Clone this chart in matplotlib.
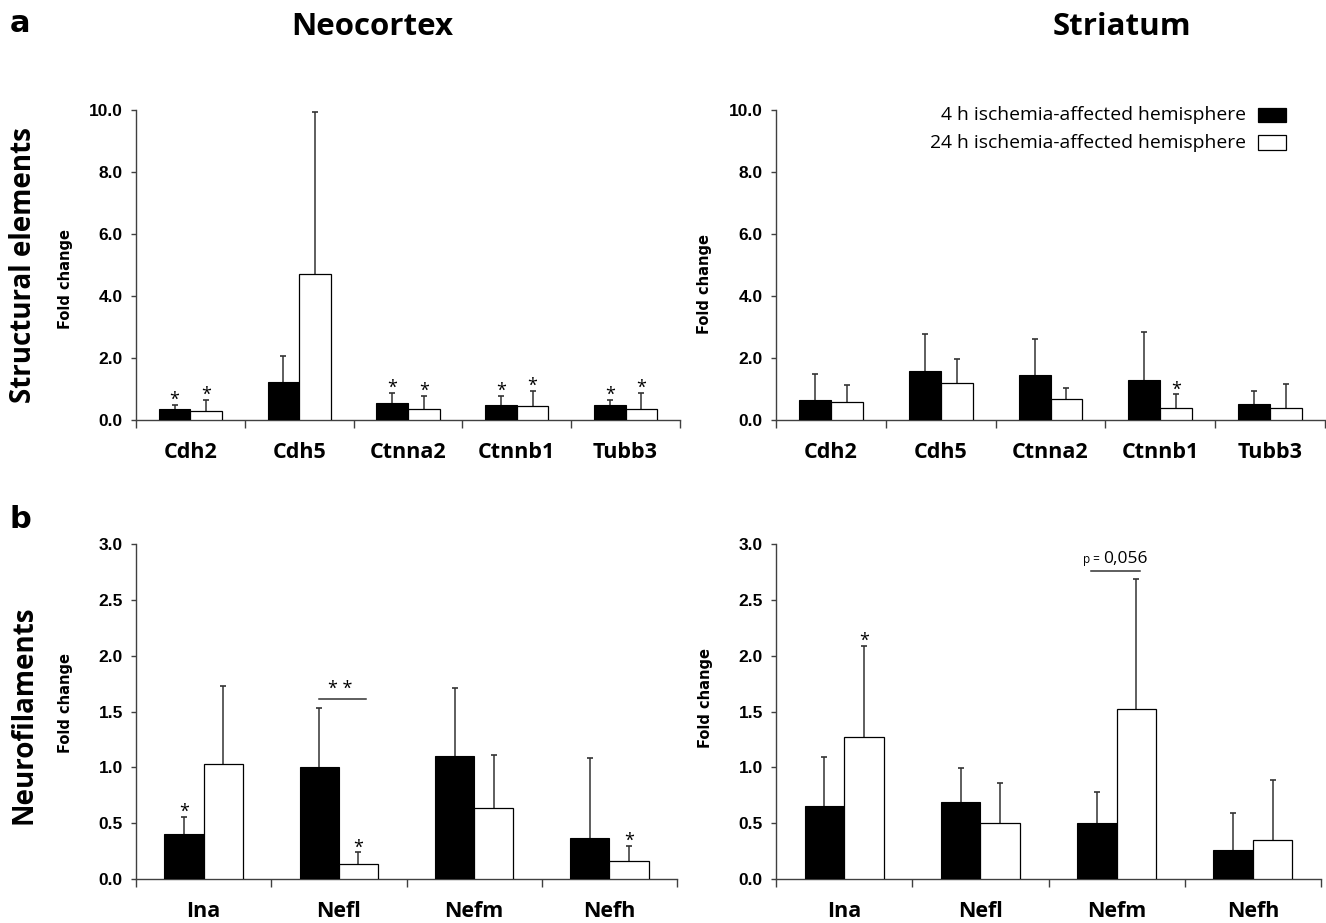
import numpy as np
import matplotlib.pyplot as plt
from matplotlib.patches import Rectangle

plt.rcParams["font.family"] = ["Open Sans", "DejaVu Sans"]

struct_genes = ["Cdh2", "Cdh5", "Ctnna2", "Ctnnb1", "Tubb3"]
neuro_genes = ["Ina", "Nefl", "Nefm", "Nefh"]
series_names = ["4 h ischemia-affected hemisphere", "24 h ischemia-affected hemisphere"]

# neocortex - structural elements (mean, upper SD)
ctx_struct_4h = [0.37, 1.22, 0.54, 0.48, 0.47]
ctx_struct_4h_sd = [0.13, 0.86, 0.335, 0.29, 0.17]
ctx_struct_24h = [0.30, 4.70, 0.37, 0.44, 0.37]
ctx_struct_24h_sd = [0.36, 5.23, 0.40, 0.50, 0.505]
ctx_struct_4h_sig = ["*", "", "*", "*", "*"]
ctx_struct_24h_sig = ["*", "", "*", "*", "*"]

# striatum - structural elements
str_struct_4h = [0.65, 1.57, 1.44, 1.30, 0.53]
str_struct_4h_sd = [0.84, 1.19, 1.16, 1.53, 0.40]
str_struct_24h = [0.565, 1.19, 0.69, 0.39, 0.39]
str_struct_24h_sd = [0.575, 0.78, 0.34, 0.44, 0.78]
str_struct_4h_sig = ["", "", "", "", ""]
str_struct_24h_sig = ["", "", "", "*", ""]

# neocortex - neurofilaments
ctx_neuro_4h = [0.40, 1.00, 1.10, 0.37]
ctx_neuro_4h_sd = [0.155, 0.53, 0.61, 0.715]
ctx_neuro_24h = [1.03, 0.137, 0.64, 0.158]
ctx_neuro_24h_sd = [0.70, 0.103, 0.47, 0.137]
ctx_neuro_4h_sig = ["*", "", "", ""]
ctx_neuro_24h_sig = ["", "*", "", "*"]

# striatum - neurofilaments
str_neuro_4h = [0.656, 0.69, 0.50, 0.26]
str_neuro_4h_sd = [0.434, 0.30, 0.275, 0.33]
str_neuro_24h = [1.27, 0.50, 1.52, 0.35]
str_neuro_24h_sd = [0.82, 0.36, 1.17, 0.536]
str_neuro_4h_sig = ["", "", "", ""]
str_neuro_24h_sig = ["*", "", "", ""]

W, H = 1326, 923
fig = plt.figure(figsize=(W / 100, H / 100), dpi=100)


def px_rect(left, top, right, bottom):
    return [left / W, 1 - bottom / H, (right - left) / W, (bottom - top) / H]


AX_COL = "#404040"
ERR_COL = "#333333"
bw = 0.29


def draw_panel(ax, genes, m4, e4, m24, e24, s4, s24, ymax, ystep, lab_y):
    n = len(genes)
    x = np.arange(n) + 0.5
    ax.bar(x - bw / 2, m4, bw, color="black", edgecolor="black", linewidth=0.8, zorder=3)
    ax.bar(x + bw / 2, m24, bw, color="white", edgecolor="black", linewidth=0.9, zorder=3)
    for xs, m, e, sig in [(x - bw / 2, m4, e4, s4), (x + bw / 2, m24, e24, s24)]:
        top = np.array(m) + np.array(e)
        # upper error bar only, small cap at the top
        ax.vlines(xs, m, top, color=ERR_COL, linewidth=1.1, zorder=2)
        ax.plot(xs, top, ls="none", marker="_", ms=4, mew=1.2, color=ERR_COL, zorder=2)
        for xi, ti, si in zip(xs, top, sig):
            if si:
                ax.annotate(si, (xi, ti), xytext=(0, -3), textcoords="offset points",
                            ha="center", va="bottom", fontsize=13)
    ax.set_xlim(0, n)
    ax.set_ylim(0, ymax)
    yt = np.arange(0, ymax + ystep / 2, ystep)
    ax.set_yticks(yt)
    ax.set_yticklabels([f"{v:.1f}" for v in yt],
                       family=["Liberation Sans", "DejaVu Sans"], weight="bold", fontsize=12.5)
    ax.set_xticks(np.arange(n + 1))
    ax.set_xticklabels([])
    ax.set_xticks(x, genes, minor=True, fontsize=15.5, weight="bold")
    ax.tick_params(axis="x", which="major", length=5.5, width=1, direction="out", color=AX_COL)
    ax.tick_params(axis="x", which="minor", length=0, pad=16)
    ax.tick_params(axis="y", length=3.5, width=1, direction="out", color=AX_COL, pad=6)
    for s in ["top", "right"]:
        ax.spines[s].set_visible(False)
    for s in ["left", "bottom"]:
        ax.spines[s].set_color(AX_COL)
        ax.spines[s].set_linewidth(1)
    ax.text(-0.13, lab_y, "Fold change", transform=ax.transAxes, rotation=90,
            ha="center", va="center", fontsize=10.5, weight="bold", family="DejaVu Sans")
    return x


ax1 = fig.add_axes(px_rect(136, 110, 680, 420))
draw_panel(ax1, struct_genes, ctx_struct_4h, ctx_struct_4h_sd, ctx_struct_24h, ctx_struct_24h_sd,
           ctx_struct_4h_sig, ctx_struct_24h_sig, 10, 2, 0.455)

ax2 = fig.add_axes(px_rect(776, 110, 1325, 420))
draw_panel(ax2, struct_genes, str_struct_4h, str_struct_4h_sd, str_struct_24h, str_struct_24h_sd,
           str_struct_4h_sig, str_struct_24h_sig, 10, 2, 0.44)

ax3 = fig.add_axes(px_rect(136, 544, 677, 879))
x3 = draw_panel(ax3, neuro_genes, ctx_neuro_4h, ctx_neuro_4h_sd, ctx_neuro_24h, ctx_neuro_24h_sd,
                ctx_neuro_4h_sig, ctx_neuro_24h_sig, 3, 0.5, 0.525)

ax4 = fig.add_axes(px_rect(776, 544, 1321, 879))
x4 = draw_panel(ax4, neuro_genes, str_neuro_4h, str_neuro_4h_sd, str_neuro_24h, str_neuro_24h_sd,
                str_neuro_4h_sig, str_neuro_24h_sig, 3, 0.5, 0.54)

# comparison brackets
nefl = neuro_genes.index("Nefl")
ax3.plot([x3[nefl] - 0.15, x3[nefl] + 0.2], [1.61, 1.61], color=ERR_COL, lw=1.1)
ax3.text(x3[nefl] + 0.01, 1.62, "* *", ha="center", va="bottom", fontsize=13)

nefm = neuro_genes.index("Nefm")
ax4.plot([x4[nefm] - 0.19, x4[nefm] + 0.17], [2.76, 2.76], color=ERR_COL, lw=1.1)
ax4.text(x4[nefm] - 0.1, 2.83, "p = ", ha="right", va="baseline", fontsize=8.5)
ax4.text(x4[nefm] - 0.1, 2.83, "0,056", ha="left", va="baseline", fontsize=12.5)

# legend (labels right-aligned, boxes on the right)
for i, (name, fc) in enumerate(zip(series_names, ["black", "white"])):
    yc = 0.985 - i * 0.09
    ax2.text(0.857, yc, name, transform=ax2.transAxes, ha="right", va="center", fontsize=13.9)
    ax2.add_patch(Rectangle((0.878, yc - 0.023), 0.051, 0.046, transform=ax2.transAxes,
                            facecolor=fc, edgecolor="black", linewidth=0.9, clip_on=False))

fig.text(10 / W, 1 - 24 / H, "a", ha="left", va="center", fontsize=22, weight="bold",
         family="DejaVu Sans")
fig.text(10 / W, 1 - 520 / H, "b", ha="left", va="center", fontsize=22, weight="bold",
         family="DejaVu Sans")
fig.text(372 / W, 1 - 27 / H, "Neocortex", ha="center", va="center", fontsize=22.5, weight="bold")
fig.text(1122 / W, 1 - 27 / H, "Striatum", ha="center", va="center", fontsize=22.5, weight="bold")
fig.text(24 / W, 1 - 265 / H, "Structural elements", ha="center", va="center", rotation=90,
         fontsize=20, weight="bold")
fig.text(24 / W, 1 - 715 / H, "Neurofilaments", ha="center", va="center", rotation=90,
         fontsize=20, weight="bold")

fig.savefig("out.png", dpi=100)
